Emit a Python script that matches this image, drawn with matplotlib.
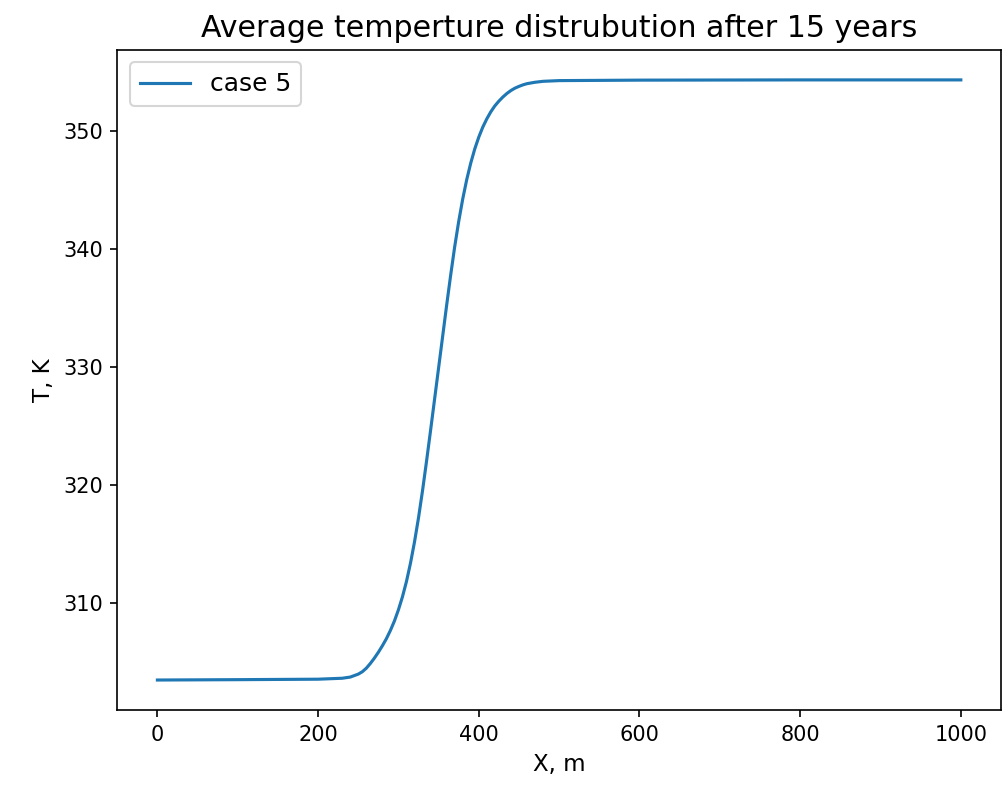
import matplotlib
matplotlib.use('Agg')
import matplotlib.pyplot as plt

# values
x_m = [0, 100, 200, 230, 240, 250, 255, 260, 265, 270, 275, 280, 285, 290,
       295, 300, 305, 310, 315, 320, 325, 330, 335, 340, 345, 350, 355, 360,
       365, 370, 375, 380, 385, 390, 395, 400, 405, 410, 415, 420, 425, 430,
       435, 440, 445, 450, 455, 460, 470, 480, 500, 600, 800, 1000]
temp_k = [303.45, 303.48, 303.52, 303.6, 303.7, 303.95, 304.15, 304.45,
          304.85, 305.3, 305.8, 306.35, 306.95, 307.65, 308.45, 309.4, 310.5,
          311.8, 313.35, 315.15, 317.2, 319.5, 322.0, 324.6, 327.25, 329.9,
          332.55, 335.2, 337.75, 340.15, 342.3, 344.2, 345.85, 347.25, 348.45,
          349.45, 350.3, 351.0, 351.6, 352.1, 352.5, 352.85, 353.15, 353.4,
          353.6, 353.75, 353.88, 353.98, 354.1, 354.18, 354.24, 354.28, 354.3,
          354.3]

fig = plt.figure(figsize=(6.68, 5.28), dpi=150)
ax = fig.add_axes([0.117, 0.1035, 0.882, 0.8335])

ax.plot(x_m, temp_k, label='case 5', color='#1f77b4')
ax.set_title('Average temperture distrubution after 15 years', fontsize=14.4)
ax.set_xlabel('X, m', fontsize=11)
ax.set_ylabel('T, K', fontsize=11)
ax.tick_params(labelsize=10)
ax.legend(loc='upper left', fontsize=12)

fig.savefig('out.png', dpi=150)
